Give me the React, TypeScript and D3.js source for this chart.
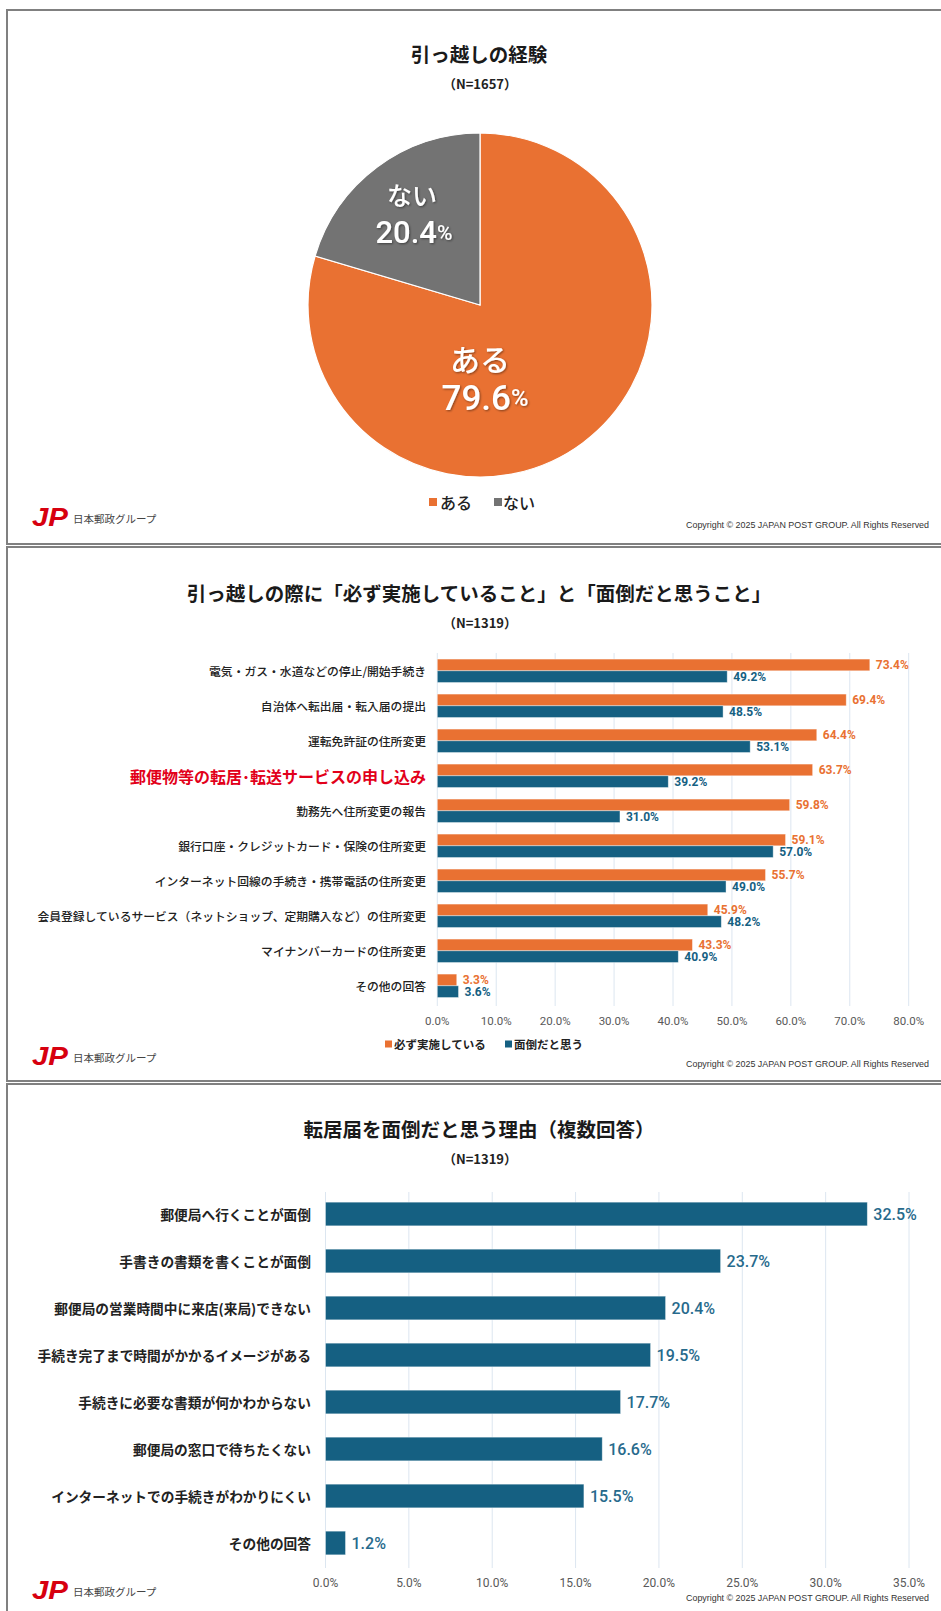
import React from "react";
import * as d3 from "d3";

const pieLabels = ["ある", "ない"];
const pieValues = [79.6, 20.4];

const taskLabels = [
  "電気・ガス・水道などの停止/開始手続き",
  "自治体へ転出届・転入届の提出",
  "運転免許証の住所変更",
  "郵便物等の転居･転送サービスの申し込み",
  "勤務先へ住所変更の報告",
  "銀行口座・クレジットカード・保険の住所変更",
  "インターネット回線の手続き・携帯電話の住所変更",
  "会員登録しているサービス（ネットショップ、定期購入など）の住所変更",
  "マイナンバーカードの住所変更",
  "その他の回答",
];
const doneValues = [73.4, 69.4, 64.4, 63.7, 59.8, 59.1, 55.7, 45.9, 43.3, 3.3];
const botherValues = [49.2, 48.5, 53.1, 39.2, 31.0, 57.0, 49.0, 48.2, 40.9, 3.6];
const seriesNames = ["必ず実施している", "面倒だと思う"];
const highlightLabel = "郵便物等の転居･転送サービスの申し込み";
const ticks2 = [0, 10, 20, 30, 40, 50, 60, 70, 80];

const reasonLabels = [
  "郵便局へ行くことが面倒",
  "手書きの書類を書くことが面倒",
  "郵便局の営業時間中に来店(来局)できない",
  "手続き完了まで時間がかかるイメージがある",
  "手続きに必要な書類が何かわからない",
  "郵便局の窓口で待ちたくない",
  "インターネットでの手続きがわかりにくい",
  "その他の回答",
];
const reasonValues = [32.5, 23.7, 20.4, 19.5, 17.7, 16.6, 15.5, 1.2];
const ticks3 = [0, 5, 10, 15, 20, 25, 30, 35];

const ORANGE = "#E97132";
const BLUE = "#156082";
const GRAY = "#737373";
const GRID = "#DCE6F0";
const JP = "'Noto Sans CJK JP', 'Noto Sans', sans-serif";
const NUM = "Roboto, 'Noto Sans', sans-serif";
const pct = (v: number) => d3.format(".1f")(v) + "%";

function Footer({ y }: { y: number }) {
  return (
    <g>
      <text x={32} y={y} fontFamily="Arial, 'Liberation Sans', sans-serif" fontWeight={900} fontStyle="italic" fontSize={26} fill="#D7000F" dominantBaseline="central" textLength={36} lengthAdjust="spacingAndGlyphs">JP</text>
      <text x={73} y={y + 1} fontFamily={JP} fontSize={10.5} fill="#444" dominantBaseline="central">日本郵政グループ</text>
      <text x={929} y={y + 8} fontFamily="'Liberation Sans', Arial, sans-serif" fontSize={9} fill="#333" textAnchor="end" dominantBaseline="central" textLength={243} lengthAdjust="spacingAndGlyphs">Copyright © 2025 JAPAN POST GROUP. All Rights Reserved</text>
    </g>
  );
}

function Title({ y, text, n }: { y: number; text: string; n: string }) {
  return (
    <g>
      <text x={479} y={y} textAnchor="middle" dominantBaseline="central" fontFamily={JP} fontWeight={700} fontSize={19.5} fill="#1a1a1a">{text}</text>
      <text x={480} y={y + 30} textAnchor="middle" dominantBaseline="central" fontFamily={JP} fontWeight={700} fontSize={13} fill="#222">{n}</text>
    </g>
  );
}

function PiePanel() {
  const cx = 480, cy = 305, r = 172;
  const arcs = d3.pie<number>().sort(null)(pieValues);
  const arc = d3.arc<d3.PieArcDatum<number>>().innerRadius(0).outerRadius(r);
  const colors = [ORANGE, GRAY];
  const labelPos = [
    { name: [480, 358, 30], val: [485, 398, 35] },
    { name: [412, 194, 25], val: [414, 232, 31] },
  ];
  return (
    <g>
      <g transform={`translate(${cx},${cy})`}>
        {arcs.map((a, i) => (
          <path key={i} d={arc(a) || ""} fill={colors[i]} stroke="#fff" strokeWidth={1.2} />
        ))}
      </g>
      {arcs.map((a, i) => {
        const p = labelPos[i];
        return (
          <g key={"l" + i} filter="url(#shadow)" fill="#fff" fontFamily={JP} fontWeight={500}>
            <text x={p.name[0]} y={p.name[1]} fontSize={p.name[2]} textAnchor="middle" dominantBaseline="central">{pieLabels[i]}</text>
            <text x={p.val[0]} y={p.val[1]} fontSize={p.val[2]} textAnchor="middle" dominantBaseline="central" fontFamily={NUM}>
              {d3.format(".1f")(a.data)}
              <tspan fontSize={p.val[2] * 0.68}>%</tspan>
            </text>
          </g>
        );
      })}
      {pieLabels.map((l, i) => (
        <g key={"lg" + i}>
          <rect x={[429, 494][i]} y={498} width={8} height={8} fill={colors[i]} />
          <text x={[440, 503][i]} y={502} fontFamily={JP} fontWeight={500} fontSize={16} dominantBaseline="central" fill="#222">{l}</text>
        </g>
      ))}
    </g>
  );
}

function TaskPanel() {
  const x = d3.scaleLinear().domain([0, 80]).range([437.3, 908.7]);
  const y = d3.scaleBand<string>().domain(taskLabels).range([653.3, 1003.3]).paddingInner(0.33).paddingOuter(0.165);
  const sub = d3.scaleBand<string>().domain(seriesNames).range([0, y.bandwidth()]);
  const series = [doneValues, botherValues];
  const colors = [ORANGE, BLUE];
  return (
    <g>
      {ticks2.map((t) => (
        <g key={t}>
          <line x1={x(t)} x2={x(t)} y1={653} y2={1006} stroke={GRID} strokeWidth={1} />
          <text x={x(t)} y={1021} textAnchor="middle" dominantBaseline="central" fontFamily={NUM} fontSize={11.5} fill="#595959">{pct(t)}</text>
        </g>
      ))}
      {taskLabels.map((lab, i) => {
        const by = y(lab)!;
        const hl = lab === highlightLabel;
        return (
          <g key={lab}>
            <text x={426} y={by + y.bandwidth() / 2} textAnchor="end" dominantBaseline="central" fontFamily={JP} fontWeight={hl ? 700 : 500} fontSize={hl ? 16 : 11.8} fill={hl ? "#E2001A" : "#222"}>{lab}</text>
            {series.map((vals, s) => {
              const yy = by + sub(seriesNames[s])!;
              return (
                <g key={s}>
                  <rect x={x(0)} y={yy} width={x(vals[i]) - x(0)} height={sub.bandwidth()} fill={colors[s]} stroke="#fff" strokeOpacity={0.5} strokeWidth={0.8} />
                  <text x={x(vals[i]) + 6} y={yy + sub.bandwidth() / 2} dominantBaseline="central" fontFamily={NUM} fontWeight={700} fontSize={12} fill={colors[s]}>{pct(vals[i])}</text>
                </g>
              );
            })}
          </g>
        );
      })}
      {seriesNames.map((n, i) => (
        <g key={n}>
          <rect x={[385, 505][i]} y={1040.5} width={7} height={7} fill={colors[i]} />
          <text x={[394, 514][i]} y={1044} dominantBaseline="central" fontFamily={JP} fontWeight={700} fontSize={11.5} fill="#222">{n}</text>
        </g>
      ))}
    </g>
  );
}

function ReasonPanel() {
  const x = d3.scaleLinear().domain([0, 35]).range([325.5, 909]);
  const y = d3.scaleBand<string>().domain(reasonLabels).range([1190.5, 1566.5]).paddingInner(0.496).paddingOuter(0.248);
  return (
    <g>
      {ticks3.map((t) => (
        <g key={t}>
          <line x1={x(t)} x2={x(t)} y1={1192} y2={1568} stroke={GRID} strokeWidth={1} />
          <text x={x(t)} y={1583} textAnchor="middle" dominantBaseline="central" fontFamily={NUM} fontSize={12} fill="#595959">{pct(t)}</text>
        </g>
      ))}
      {reasonLabels.map((lab, i) => {
        const by = y(lab)!;
        const cy = by + y.bandwidth() / 2;
        return (
          <g key={lab}>
            <text x={311} y={cy} textAnchor="end" dominantBaseline="central" fontFamily={JP} fontWeight={700} fontSize={13.7} fill="#222">{lab}</text>
            <rect x={x(0)} y={by} width={x(reasonValues[i]) - x(0)} height={y.bandwidth()} fill={BLUE} stroke="#fff" strokeOpacity={0.5} strokeWidth={0.8} />
            <text x={x(reasonValues[i]) + 6} y={cy} dominantBaseline="central" fontFamily={NUM} fontWeight={500} fontSize={16} fill="#276A8C">{pct(reasonValues[i])}</text>
          </g>
        );
      })}
    </g>
  );
}

export default function App() {
  return (
    <svg width={941} height={1611} style={{ position: "absolute", left: 0, top: 0, background: "#fff" }}>
      <defs>
        <filter id="shadow" x="-20%" y="-20%" width="140%" height="140%">
          <feDropShadow dx={1} dy={1} stdDeviation={0.8} floodColor="#000" floodOpacity={0.45} />
        </filter>
      </defs>
      <rect x={0} y={0} width={941} height={1611} fill="#fff" />
      <rect x={7} y={10} width={960} height={534} fill="#fff" stroke="#808080" strokeWidth={2} />
      <rect x={7} y={547} width={960} height={534} fill="#fff" stroke="#808080" strokeWidth={2} />
      <rect x={7} y={1084} width={960} height={560} fill="#fff" stroke="#808080" strokeWidth={2} />

      <Title y={53.5} text="引っ越しの経験" n="（N=1657）" />
      <PiePanel />
      <Footer y={517} />

      <Title y={592} text="引っ越しの際に「必ず実施していること」と「面倒だと思うこと」" n="（N=1319）" />
      <TaskPanel />
      <Footer y={1056} />

      <Title y={1128} text="転居届を面倒だと思う理由（複数回答）" n="（N=1319）" />
      <ReasonPanel />
      <Footer y={1590} />
    </svg>
  );
}
